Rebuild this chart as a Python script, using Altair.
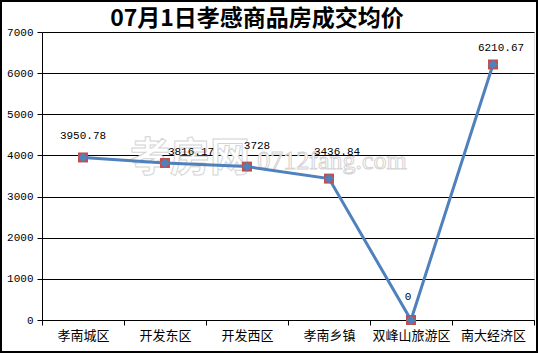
import altair as alt
import pandas as pd

# ---- data ----
categories = ["孝南城区", "开发东区", "开发西区", "孝南乡镇", "双峰山旅游区", "南大经济区"]
prices = [3950.78, 3816.17, 3728, 3436.84, 0, 6210.67]
price_labels = ["3950.78", "3816.17", "3728", "3436.84", "0", "6210.67"]
y_ticks = [0, 1000, 2000, 3000, 4000, 5000, 6000, 7000]
title_text = "07月1日孝感商品房成交均价"

# label nudges (pixels) as the labels sit in the reference
label_nudge = {
    "孝南城区": (0, -21),
    "开发东区": (26, -11),
    "开发西区": (10, -21),
    "孝南乡镇": (8, -27),
    "双峰山旅游区": (-3, -23),
    "南大经济区": (8, -16),
}

df = pd.DataFrame({"区域": categories, "均价": prices, "标签": price_labels})
one_row = pd.DataFrame({"k": [0]})

W, H = 492, 288
PAD = {"left": 42, "top": 32, "right": 4, "bottom": 33}
BLUE = "#4F81BD"
RED = "#C0504D"
NUM_FONT = "Liberation Mono"

x_enc = alt.X(
    "区域:N",
    sort=categories,
    scale=alt.Scale(type="band", paddingInner=0, paddingOuter=0),
    axis=alt.Axis(
        title=None, labelAngle=0, tickBand="extent", grid=False,
        labelFont="Noto Sans CJK SC", labelFontSize=13, labelColor="black",
        tickColor="black", tickSize=5, domainColor="black", domainWidth=1,
        labelPadding=4,
    ),
)
y_enc = alt.Y(
    "均价:Q",
    scale=alt.Scale(domain=[0, 7000], nice=False),
    axis=alt.Axis(
        title=None, values=y_ticks, format="d", grid=True, gridColor="black",
        gridWidth=1, gridOpacity=1, labelFont=NUM_FONT,
        labelFontSize=11, labelColor="black", tickColor="black", tickSize=5,
        domainColor="black", labelPadding=4,
    ),
)

base = alt.Chart(df).encode(x=x_enc, y=y_enc)

border = alt.Chart(one_row).mark_rect(fill=None, stroke="black", strokeWidth=2).encode(
    x=alt.value(-PAD["left"] + 1), x2=alt.value(W + PAD["right"] - 1),
    y=alt.value(-PAD["top"] + 1), y2=alt.value(H + PAD["bottom"] - 1),
)

wm1 = alt.Chart(one_row).mark_text(
    text="孝房网", font="Noto Sans CJK SC", fontSize=40, fontWeight="bold",
    fill="white", stroke="#d4d4d4", strokeWidth=1, baseline="middle", align="center",
).encode(x=alt.value(148), y=alt.value(127))
wm2 = alt.Chart(one_row).mark_text(
    text="0712fang.com", font="Liberation Serif", fontSize=26,
    fill="white", stroke="#d4d4d4", strokeWidth=1, baseline="middle", align="center",
).encode(x=alt.value(290), y=alt.value(129))

line = base.mark_line(color=BLUE, strokeWidth=3)
squares = base.mark_point(shape="square", filled=True, color=RED, size=100, opacity=1)
diamonds = base.mark_point(shape="diamond", filled=True, color=BLUE, size=90, opacity=1)

label_layers = []
for cat in categories:
    dx, dy = label_nudge[cat]
    label_layers.append(
        base.transform_filter(alt.datum["区域"] == cat).mark_text(
            font=NUM_FONT, fontSize=11, color="black",
            dx=dx, dy=dy, baseline="middle", align="center",
        ).encode(text="标签:N")
    )

chart = alt.layer(
    wm1, wm2, line, squares, diamonds, *label_layers, border
).properties(
    width=W, height=H,
    padding=PAD,
    autosize=alt.AutoSizeParams(type="none"),
    title=alt.TitleParams(
        text=title_text, font="Noto Sans CJK SC", fontSize=23, fontWeight="bold",
        color="black", anchor="middle", dx=-31, offset=-31,
    ),
).configure_view(stroke=None).configure(background="white")

chart.save("out.html", embed_options={"renderer": "svg", "actions": False})
